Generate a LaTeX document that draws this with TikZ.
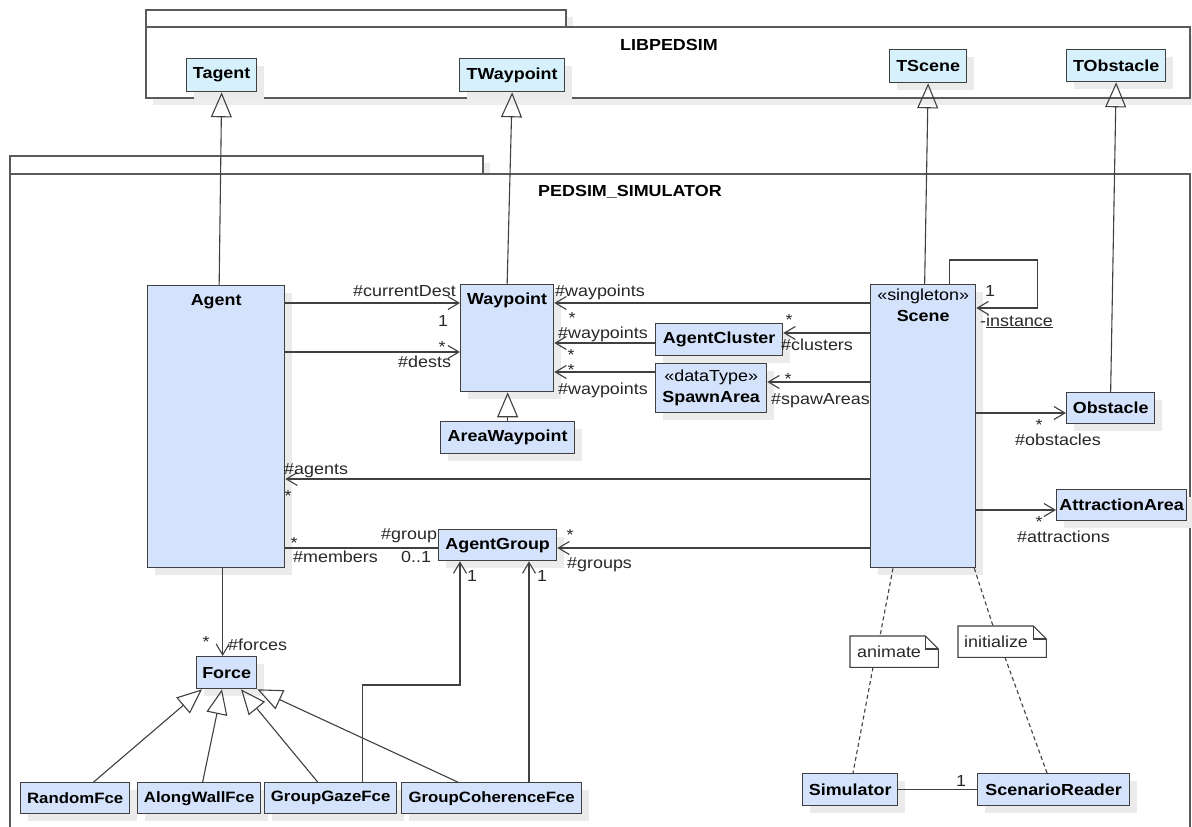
\documentclass[tikz,border=0pt]{standalone}
\usepackage{fontspec}
\setmainfont{Liberation Sans}[FakeStretch=1.12]
\usetikzlibrary{arrows.meta,shadows}
\definecolor{clsfill}{RGB}{212,227,251}
\definecolor{tfill}{RGB}{214,241,251}
\definecolor{edgec}{RGB}{64,64,64}
\definecolor{pkgc}{RGB}{90,90,90}
\definecolor{txtc}{RGB}{40,40,40}
\begin{document}
\begin{tikzpicture}[x=1pt,y=-1pt,
  cls/.style={draw=edgec, line width=1.3pt, fill=clsfill, inner sep=0pt, align=center, anchor=north west,
    font=\fontsize{16}{21}\selectfont\bfseries, text=black,
    drop shadow={shadow xshift=7pt,shadow yshift=-7pt,fill=black!8,opacity=1}},
  tcls/.style={cls, fill=tfill},
  fce/.style={cls, font=\fontsize{15}{20}\selectfont\bfseries},
  lbl/.style={inner sep=0pt, font=\fontsize{16}{21}\selectfont, text=txtc, anchor=base west},
  mult/.style={inner sep=0pt, font=\fontsize{16}{21}\selectfont, text=txtc, anchor=base},
  nav/.style={draw=edgec, line width=1.1pt, -{Straight Barb[length=11pt,width=13pt]}},
  gen/.style={draw=edgec, line width=1.1pt, -{Triangle[open,length=25pt,width=21pt]}},
  assoc/.style={draw=edgec, line width=1.1pt},
  dep/.style={draw=edgec, line width=1.1pt, dash pattern=on 4pt off 3pt},
  pkg/.style={draw=pkgc, line width=1.2pt},
  note/.style={draw=none, fill=white, inner sep=0pt, anchor=north west},
  notel/.style={draw=edgec, line width=1.1pt},
  pkgname/.style={inner sep=0pt, anchor=base west, font=\fontsize{16}{21}\selectfont\bfseries, text=black}
]
\useasboundingbox (0,0) rectangle (1192,827);
\fill[white] (0,0) rectangle (1192,827);

% ---------- packages ----------
\fill[black!7] (153,17) rectangle (573,34);
\fill[black!7] (153,34) rectangle (1197,105);
\draw[pkg, fill=white] (146,10) rectangle (566,27);
\draw[pkg, fill=white] (146,27) rectangle (1190,98);
\node[pkgname] (libname) at (620,50) {LIBPEDSIM};

\fill[black!7] (17,163) rectangle (490,181);
\fill[white] (10,156) rectangle (483,174);
\draw[pkg] (10,174) -- (10,156) -- (483,156) -- (483,174);
\draw[pkg, fill=white] (10,830) -- (10,174) -- (1190,174) -- (1190,830);
\node[pkgname] (pedname) at (538,196) {PEDSIM\_SIMULATOR};

% ---------- classes ----------
\node[tcls, minimum width=70pt, minimum height=33pt] (tagent) at (186,58) {Tagent};
\node[tcls, minimum width=105pt, minimum height=33pt] (twp) at (459,58) {TWaypoint};
\node[tcls, minimum width=77pt, minimum height=33pt] (tscene) at (889,49) {TScene};
\node[tcls, minimum width=99pt, minimum height=32pt] (tobst) at (1066,49) {TObstacle};

\node[cls, minimum width=137pt, minimum height=282pt,
  label={[name=agentname, anchor=north, inner sep=0pt, yshift=-9pt, font=\fontsize{16}{21}\selectfont\bfseries]north:Agent}] (agent) at (147,285) {};
\node[cls, minimum width=93pt, minimum height=107pt,
  label={[name=wpname, anchor=north, inner sep=0pt, yshift=-9pt, font=\fontsize{16}{21}\selectfont\bfseries]north:Waypoint}] (wp) at (460,284) {};
\node[cls, minimum width=134pt, minimum height=32pt] (aw) at (440,421) {AreaWaypoint};
\node[cls, minimum width=127pt, minimum height=32pt] (clu) at (655,323) {AgentCluster};
\node[cls, minimum width=111pt, minimum height=49pt] (spawn) at (655,363) {{\mdseries «dataType»}\\SpawnArea};
\node[cls, minimum width=105pt, minimum height=283pt,
  label={[name=scenename, anchor=north, inner sep=0pt, yshift=-5pt, align=center, font=\fontsize{16}{21}\selectfont]north:«singleton»\\\textbf{Scene}}] (scene) at (870,284) {};
\node[cls, minimum width=88pt, minimum height=31pt] (obst) at (1066,392) {Obstacle};
\node[cls, minimum width=130pt, minimum height=31pt] (attr) at (1056,489) {AttractionArea};
\node[cls, minimum width=118pt, minimum height=31pt] (agroup) at (438,529) {AgentGroup};
\node[cls, minimum width=60pt, minimum height=32pt] (force) at (196,656) {Force};
\node[fce, minimum width=109pt, minimum height=31pt] (rf) at (20,782) {RandomFce};
\node[fce, minimum width=123pt, minimum height=31pt] (awf) at (137,782) {AlongWallFce};
\node[fce, minimum width=132pt, minimum height=31pt] (ggf) at (264,782) {GroupGazeFce};
\node[fce, minimum width=180pt, minimum height=31pt] (gcf) at (401,782) {GroupCoherenceFce};
\node[cls, minimum width=95pt, minimum height=32pt] (sim) at (802,773) {Simulator};
\node[cls, minimum width=152pt, minimum height=32pt] (sr) at (977,773) {ScenarioReader};

% ---------- notes ----------
\node[note, minimum width=88pt, minimum height=31pt,
  label={[name=animtxt, anchor=west, inner sep=0pt, xshift=7pt, font=\fontsize{16}{21}\selectfont, text=txtc]west:animate}] (anim) at (850,636) {};
\draw[notel] (anim.north west) -- ([xshift=-13pt]anim.north east) -- ([yshift=-13pt]anim.north east)
  -- (anim.south east) -- (anim.south west) -- cycle;
\draw[notel] ([xshift=-13pt]anim.north east) -- ([xshift=-13pt,yshift=-13pt]anim.north east) -- ([yshift=-13pt]anim.north east);
\node[note, minimum width=88pt, minimum height=31pt,
  label={[name=inittxt, anchor=west, inner sep=0pt, xshift=6pt, font=\fontsize{16}{21}\selectfont, text=txtc]west:initialize}] (init) at (958,626) {};
\draw[notel] (init.north west) -- ([xshift=-13pt]init.north east) -- ([yshift=-13pt]init.north east)
  -- (init.south east) -- (init.south west) -- cycle;
\draw[notel] ([xshift=-13pt]init.north east) -- ([xshift=-13pt,yshift=-13pt]init.north east) -- ([yshift=-13pt]init.north east);

% ---------- generalizations ----------
\draw[gen] ([xshift=3pt]agent.north) -- (tagent.south);
\draw[gen] (wp.north) -- (twp.south);
\draw[gen] ([xshift=1.5pt]scene.north) -- (tscene.south);
\draw[gen] (obst.north) -- (tobst.south);
\draw[gen] (aw.north) -- (aw.north |- wp.south);
\draw[gen] ([xshift=18.5pt]rf.north) -- ([xshift=6pt]force.south west);
\draw[gen] ([xshift=3.5pt]awf.north) -- ([xshift=26pt]force.south west);
\draw[gen] ([xshift=-13pt]ggf.north) -- ([xshift=45pt]force.south west);
\draw[gen] ([xshift=-34pt]gcf.north) -- (force.south east);

% ---------- associations ----------
\coordinate (a1) at ([yshift=-18pt]agent.north east);
\coordinate (a2) at ([yshift=-67pt]agent.north east);
\coordinate (a4) at ([yshift=-263pt]agent.north east);
\coordinate (s1) at ([yshift=-19pt]scene.north west);
\coordinate (s2) at ([yshift=-49pt]scene.north west);
\coordinate (s3) at ([yshift=-98pt]scene.north west);
\coordinate (s4) at ([yshift=-129pt]scene.north east);
\coordinate (s5) at ([yshift=-195pt]scene.north west);
\coordinate (s6) at ([yshift=-226pt]scene.north east);
\coordinate (s7) at ([yshift=-264pt]scene.north west);
\coordinate (s8) at ([yshift=-24pt]scene.north east);
\coordinate (sl) at ([xshift=-27pt]scene.north east);
\coordinate (c1) at ([yshift=-20pt]clu.north west);
\coordinate (p1) at ([yshift=-9pt]spawn.north west);

\draw[nav] (a1) -- (a1 -| wp.west);
\draw[nav] (a2) -- (a2 -| wp.west);
\draw[nav] (s1) -- (s1 -| wp.east);
\draw[nav] (c1) -- (c1 -| wp.east);
\draw[nav] (p1) -- (p1 -| wp.east);
\draw[nav] (s2) -- (s2 -| clu.east);
\draw[nav] (s3) -- (s3 -| spawn.east);
\draw[nav] (s4) -- (s4 -| obst.west);
\draw[nav] (s5) -- (s5 -| agent.east);
\draw[nav] (s6) -- (s6 -| attr.west);
\draw[nav] (s7) -- (s7 -| agroup.east);
\draw[assoc] (a4) -- (a4 -| agroup.west);
\draw[nav] (sl) -- ++(0,-24) -| ([xshift=61pt]s8) -- (s8);
\draw[nav] ([xshift=6.5pt]agent.south) -- ([xshift=-4pt]force.north);

\coordinate (g1) at ([xshift=32pt]ggf.north);
\coordinate (g2) at ([xshift=22pt]agroup.south west);
\draw[nav] (g1) -- ++(0,-97) -| (g2);
\coordinate (h2) at ([xshift=91pt]agroup.south west);
\draw[nav] (h2 |- gcf.north) -- (h2);

% ---------- dependencies ----------
\draw[dep] ([xshift=23pt]scene.south west) -- ([xshift=30pt]anim.north west);
\draw[dep] ([xshift=23pt]anim.south west) -- ([xshift=51pt]sim.north west);
\draw[dep] ([xshift=-2pt]scene.south east) -- ([xshift=35pt]init.north west);
\draw[dep] ([xshift=47pt]init.south west) -- ([xshift=70pt]sr.north west);
\draw[assoc] (sim.east) -- (sr.west);

% ---------- labels ----------
\node[lbl] (lcur) at (353,296) {\#currentDest};
\node[mult] (m1) at (443,326) {1};
\node[mult] (m2) at (442,352) {*};
\node[lbl] (ldests) at (398,367) {\#dests};
\node[lbl] (lwp1) at (555,296) {\#waypoints};
\node[mult] (m3) at (572,323) {*};
\node[lbl] (lwp2) at (558,338) {\#waypoints};
\node[mult] (m4) at (571,360) {*};
\node[mult] (m5) at (571,375) {*};
\node[lbl] (lwp3) at (558,394) {\#waypoints};
\node[mult] (m6) at (789,325) {*};
\node[lbl] (lcl) at (781,350) {\#clusters};
\node[mult] (m7) at (788,384) {*};
\node[lbl] (lsp) at (771,404) {\#spawAreas};
\node[mult] (m8) at (990,296) {1};
\node[lbl] (linst) at (980,326) {-\underline{instance}};
\node[mult] (m9) at (1039,430) {*};
\node[lbl] (lobs) at (1015,445) {\#obstacles};
\node[mult] (m10) at (1039,527) {*};
\node[lbl] (latt) at (1017,542) {\#attractions};
\node[lbl] (lag) at (284,474) {\#agents};
\node[mult] (m11) at (288,501) {*};
\node[mult] (m12) at (294,548) {*};
\node[lbl] (lmem) at (293,562) {\#members};
\node[lbl] (lgrp) at (381,539) {\#group};
\node[lbl] (l01) at (401,562) {0..1};
\node[mult] (m13) at (570,540) {*};
\node[lbl] (lgrps) at (567,568) {\#groups};
\node[mult] (m14) at (472,581) {1};
\node[mult] (m15) at (542,581) {1};
\node[mult] (m16) at (206,647) {*};
\node[lbl] (lfor) at (228,650) {\#forces};
\node[mult] (m17) at (961,786) {1};
\end{tikzpicture}
\end{document}
